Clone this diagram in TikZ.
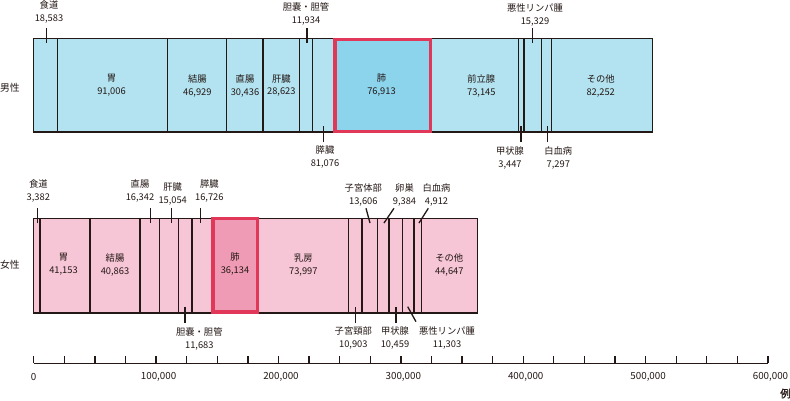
\documentclass[tikz,border=0pt]{standalone}
\usepackage{fontspec}
\setmainfont{Noto Sans CJK JP}
\newfontfamily\jpbold[FakeBold=1.6]{Noto Sans CJK JP}
\definecolor{mfill}{HTML}{B3E3F0}
\definecolor{mlung}{HTML}{8CD3EC}
\definecolor{ffill}{HTML}{F6C5D6}
\definecolor{flung}{HTML}{F09BB5}
\definecolor{redc}{HTML}{E1385A}
\definecolor{ink}{HTML}{231815}
\begin{document}
\begin{tikzpicture}[x=1pt,y=-1pt,
  seg/.style={draw=ink,line width=1.4pt},
  redbox/.style={draw=redc,line width=3.4pt},
  lbl/.style={font=\fontsize{9.3}{13}\selectfont,align=center,inner sep=0pt,text=ink},
  axlbl/.style={font=\fontsize{9.8}{12}\selectfont,inner sep=0pt,text=ink},
  side/.style={font=\fontsize{9.8}{12}\selectfont,inner sep=0pt,anchor=west,text=ink},
  tk/.style={draw=ink,line width=1.3pt}]
\useasboundingbox (0,0) rectangle (790,400);

% ---------------- male bar ----------------
\fill[mfill] (33.7,38.7) rectangle (652.7,132);
\fill[mlung] (335,39.3) rectangle (430.7,131.7);
\foreach \x in {57.3,167.7,226.7,263,299.7,312.7,518.7,524,541.7,551.7}
  \draw[seg] (\x,38.7) -- (\x,132);
\draw[seg] (33.7,38.7) rectangle (652.7,132);
\draw[redbox] (335,39.3) rectangle (430.7,131.7);

\node[side] (male) at (0,87.3) {男性};

\node[lbl] (m_stomach) at (111.5,85.5) {胃\\91,006};
\node[lbl] (m_colon) at (197.3,85.5) {結腸\\46,929};
\node[lbl] (m_rectum) at (245,85.5) {直腸\\30,436};
\node[lbl] (m_liver) at (281.3,85.5) {肝臓\\28,623};
\node[lbl] (m_lung) at (381.5,85.5) {肺\\76,913};
\node[lbl] (m_prostate) at (481.3,85.5) {前立腺\\73,145};
\node[lbl] (m_other) at (600.7,85.5) {その他\\82,252};

\node[lbl] (m_eso) at (49,12.3) {食道\\18,583};
\node[lbl] (m_gall) at (306,14) {胆嚢・胆管\\11,934};
\node[lbl] (m_lymph) at (535,15.3) {悪性リンパ腫\\15,329};
\node[lbl] (m_panc) at (325,157.3) {膵臓\\81,076};
\node[lbl] (m_thyroid) at (510,157.7) {甲状腺\\3,447};
\node[lbl] (m_leuk) at (558.3,157.7) {白血病\\7,297};

\coordinate (a1) at (46.7,28.3);  \coordinate (b1) at (46.7,43.3);
\coordinate (a2) at (307,28.3);   \coordinate (b2) at (307,43.3);
\coordinate (a3) at (532.3,28.3); \coordinate (b3) at (532.3,43.3);
\coordinate (a4) at (323.3,126);  \coordinate (b4) at (323.3,141.7);
\coordinate (a5) at (521,126);    \coordinate (b5) at (521,141.7);
\coordinate (a6) at (547.3,126);  \coordinate (b6) at (547.3,141.7);
\foreach \i in {1,...,6} \draw[tk] (a\i) -- (b\i);

% ---------------- female bar ----------------
\fill[ffill] (33.7,218.5) rectangle (477.7,313);
\fill[flung] (213,218.7) rectangle (257.2,312);
\foreach \x in {40,90,140,159.3,178.3,192,348.3,362,377.7,389,402.3,414,421.7}
  \draw[seg] (\x,218.5) -- (\x,313);
\draw[seg] (33.7,218.5) rectangle (477.7,313);
\draw[redbox] (213,218.7) rectangle (257.2,312);

\node[side] (female) at (0,265) {女性};

\node[lbl] (f_stomach) at (63.5,264.5) {胃\\41,153};
\node[lbl] (f_colon) at (115,264.5) {結腸\\40,863};
\node[lbl] (f_lung) at (235,264.5) {肺\\36,134};
\node[lbl] (f_breast) at (303.3,264.5) {乳房\\73,997};
\node[lbl] (f_other) at (449.3,264.5) {その他\\44,647};

\node[lbl] (f_eso) at (38.3,191.3) {食道\\3,382};
\node[lbl] (f_rectum) at (140,191.3) {直腸\\16,342};
\node[lbl] (f_liver) at (172.7,193.8) {肝臓\\15,054};
\node[lbl] (f_panc) at (209.3,191.3) {膵臓\\16,726};
\node[lbl] (f_body) at (363.3,195.3) {子宮体部\\13,606};
\node[lbl] (f_ovary) at (404.5,195.3) {卵巣\\9,384};
\node[lbl] (f_leuk) at (436.5,195.3) {白血病\\4,912};
\node[lbl] (f_gall) at (199.3,338.6) {胆嚢・胆管\\11,683};
\node[lbl] (f_cervix) at (353.3,338.3) {子宮頸部\\10,903};
\node[lbl] (f_thyroid) at (395,338.3) {甲状腺\\10,459};
\node[lbl] (f_lymph) at (447,338.3) {悪性リンパ腫\\11,303};

\coordinate (c1) at (37.3,208.3);  \coordinate (d1) at (37.3,222.5);
\coordinate (c2) at (150.7,208.3); \coordinate (d2) at (150.7,222.5);
\coordinate (c3) at (171.3,208.3); \coordinate (d3) at (171.3,222.5);
\coordinate (c4) at (200.3,208.3); \coordinate (d4) at (200.3,222.5);
\coordinate (c5) at (366,208.3);   \coordinate (d5) at (370,223);
\coordinate (c6) at (394,208.3);   \coordinate (d6) at (384,223);
\coordinate (c7) at (428.3,208.3); \coordinate (d7) at (419,223);
\coordinate (c8) at (185,306.7);   \coordinate (d8) at (185,323.3);
\coordinate (c9) at (355.7,307.3); \coordinate (d9) at (355.7,322.7);
\coordinate (c10) at (396,307.3);  \coordinate (d10) at (396,322.7);
\coordinate (c11) at (407.7,306.7);\coordinate (d11) at (416,321.7);
\foreach \i in {1,...,11} \draw[tk] (c\i) -- (d\i);

% ---------------- axis ----------------
\coordinate (ax0) at (33.7,363.3);
\coordinate (ax1) at (768,363.3);
\draw[draw=ink,line width=1.5pt] (ax0) -- (ax1);
\foreach \k in {0,...,24}
  \draw[draw=ink,line width=1.3pt] ({33.7+\k*30.5958},356) -- ({33.7+\k*30.5958},363.3);
\foreach \k/\t in {0/0,1/{100,000},2/{200,000},3/{300,000},4/{400,000},5/{500,000},6/{600,000}}
  \node[axlbl] (ax\k lbl) at ({33.7+\k*122.383+(\k>0?2.5:0)},377.3) {\t};
\node[axlbl,font=\jpbold\fontsize{10.5}{12}\selectfont] (unit) at (785.5,393.5) {例};
\end{tikzpicture}
\end{document}
